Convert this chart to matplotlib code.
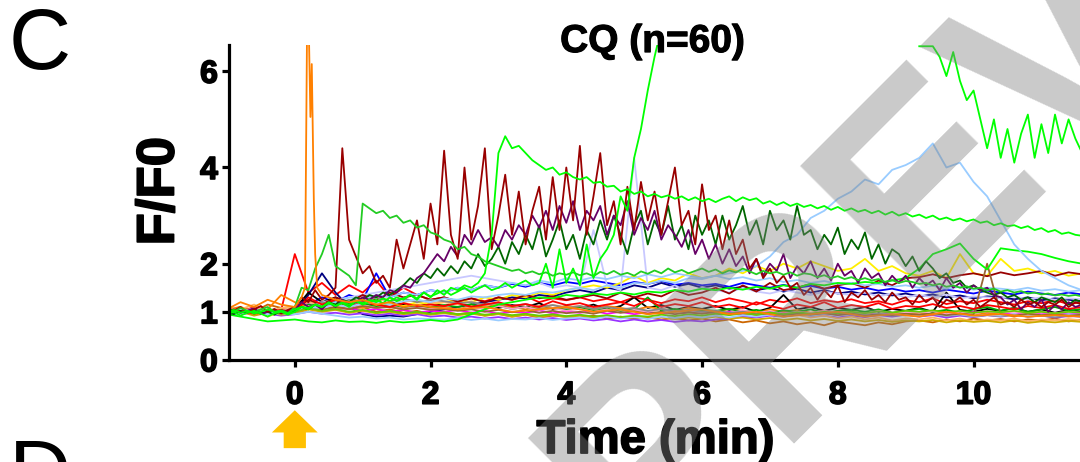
import numpy as np
import matplotlib
matplotlib.use('Agg')
import matplotlib.pyplot as plt
import matplotlib.transforms as mtransforms
import matplotlib.patheffects as pe

plt.rcParams['font.family'] = ['Liberation Sans', 'DejaVu Sans']

# ---- data (F/F0 traces) ----
# fine traces: sampled every 0.1 min starting at -1.0 min
dark_red = [1.08, 1.02, 1.1, 0.98, 1.05, 1.12, 1.0, 1.06, 0.97, 1.04,
            1.1, 1.3, 1.2, 1.45, 1.25, 1.35,
            1.5, 4.4, 2.5, 2.15, 1.8, 1.95, 1.6, 1.75, 1.5,
            2.5, 1.9, 2.4, 2.9, 2.1, 3.25, 2.4, 4.35, 2.6, 2.1,
            4.0, 2.5, 3.2, 4.4, 2.3, 3.0, 3.85, 2.6, 3.5, 2.4,
            3.1, 3.6, 2.5, 3.8, 2.7, 4.0, 2.9, 4.45, 2.6, 3.4,
            4.3, 2.8, 3.3, 2.4, 3.6, 2.7, 3.7, 2.9, 3.5, 2.6,
            3.3, 4.0, 2.8, 3.1, 2.4, 3.65, 2.7, 3.0, 2.3, 2.9,
            2.2, 2.5, 1.9, 2.1, 1.7, 1.9, 1.6, 1.75, 1.5,
            1.6, 1.35, 1.5, 1.25, 1.45, 1.3, 1.55, 1.2, 1.4, 1.3,
            1.45, 1.25, 1.35, 1.2, 1.4, 1.25, 1.3, 1.15, 1.35, 1.2,
            1.3, 1.1, 1.25, 1.2, 1.3, 1.15, 1.25, 1.1, 1.2, 1.3,
            1.15, 1.2, 1.1, 1.25, 1.15, 1.2, 1.1, 1.2, 1.15, 1.25,
            1.1, 1.2, 1.15]
purple = [1.0, 1.05, 0.98, 1.02, 1.08, 0.95, 1.0, 1.04, 0.97, 1.02,
          1.05, 1.2, 1.1, 1.15, 1.05, 1.2, 1.1, 1.25, 1.15, 1.2, 1.3,
          1.25, 1.35, 1.3, 1.45, 1.4, 1.55, 1.5, 1.7, 1.8,
          2.0, 2.2, 2.05, 2.35, 2.15, 2.6, 2.4, 2.7, 2.45, 2.55, 2.35, 2.7, 2.5, 2.8,
          2.6, 3.0, 2.75, 3.1, 2.7, 3.2, 2.85, 3.3, 2.7, 3.1, 2.9, 3.2,
          2.6, 3.0, 2.8, 3.3, 2.6, 2.95, 2.7, 3.1, 2.5, 2.8, 2.6,
          2.35, 2.7, 2.2, 2.5, 2.1, 2.4, 2.0, 2.3, 1.95,
          2.15, 1.8, 2.1, 1.75, 2.0, 1.85, 2.2, 1.7, 1.95, 1.8,
          2.05, 1.7, 1.9, 1.65, 2.0, 1.75, 1.85, 1.6, 1.9, 1.7, 1.8, 1.55, 1.75,
          1.6, 1.75, 1.5, 1.7, 1.55, 1.65, 1.45, 1.7, 1.5, 1.6, 1.4, 1.55, 1.45, 1.5, 1.35,
          1.3, 1.15, 1.25, 1.05, 1.2, 1.1, 1.25, 1.0, 1.15, 1.05, 1.2, 1.1, 1.15]
dark_green = [1.0, 0.95, 1.02, 0.98, 1.05, 0.97, 1.0, 0.94, 1.03, 0.99,
              1.02, 1.1, 1.05, 1.15, 1.1, 1.2, 1.15, 1.25, 1.2, 1.3, 1.25, 1.35, 1.3, 1.4, 1.35, 1.45,
              1.55, 1.7, 1.6, 1.8, 1.7, 1.9, 1.75, 1.95, 1.8, 2.05, 1.9, 2.2, 1.95,
              2.1, 2.35, 2.0, 2.45, 2.2, 2.6, 2.3, 2.8, 2.15, 2.5, 2.9, 2.3, 2.6, 2.1, 2.7, 2.4, 2.9,
              2.5, 3.0, 2.6, 2.2, 2.8, 3.1, 2.4, 2.9, 2.6, 3.2, 2.5, 2.8, 2.3, 3.0, 2.6, 2.9, 2.4,
              3.0, 2.5, 2.8, 3.2, 2.6, 2.9, 2.4, 3.1, 2.7, 2.9, 2.5, 3.2, 2.6,
              2.7, 2.3, 2.6, 2.4, 2.75, 2.2, 2.5, 2.3, 2.65, 2.1, 2.4, 2.0, 2.3,
              2.2, 1.95, 2.15, 1.85, 2.05, 1.9, 1.7, 1.8, 1.6, 1.65, 1.5, 1.55, 1.45, 1.4,
              1.35, 1.4, 1.3, 1.35, 1.25, 1.3, 1.2, 1.3, 1.25, 1.2, 1.3, 1.15, 1.25, 1.2]
mid_green = [1.05, 1.0, 1.08, 1.02, 0.98, 1.05, 1.1, 1.0, 1.03, 0.97,
             1.1, 1.5, 1.45, 1.9, 2.2, 2.6, 1.95, 1.85, 1.75, 1.55, 3.25,
             3.15, 3.05, 3.1, 2.95, 3.0, 2.85, 2.9, 2.75, 2.8, 2.65,
             2.6, 2.5, 2.45, 2.3, 2.35, 2.2, 2.15, 2.05, 2.0, 1.95,
             1.9, 1.85, 1.88, 1.8, 1.84, 1.78, 1.82, 1.75, 1.8, 1.77,
             1.82, 1.76, 1.8, 1.74, 1.83, 1.78, 1.85, 1.77, 1.81, 1.75,
             1.84, 1.79, 1.86, 1.8, 1.9, 1.82, 1.87, 1.8, 1.85, 1.9,
             1.83, 1.88, 1.8, 1.86, 1.82, 1.9, 1.84, 1.78, 1.85, 1.8,
             1.83, 1.77, 1.82, 1.75, 1.8,
             1.78, 1.72, 1.76, 1.7, 1.74, 1.68, 1.72, 1.66, 1.7, 1.65, 1.68, 1.62, 1.66, 1.6, 1.64,
             1.62, 1.58, 1.6, 1.55, 1.58, 1.52, 1.55, 1.5, 1.53, 1.48, 1.5, 1.45, 1.48,
             1.42, 1.45, 1.4, 1.43, 1.38, 1.4, 1.36, 1.38, 1.34, 1.36, 1.33, 1.35, 1.32]
green_peak = [0.95, 1.0, 0.92, 0.98, 1.02, 0.96, 0.9, 0.97, 1.0, 0.94,
              1.0, 1.1, 1.05, 1.15, 1.1, 1.2, 1.12, 1.18, 1.1, 1.22,
              1.15, 1.2, 1.25, 1.18, 1.3, 1.22, 1.28, 1.35, 1.25, 1.4,
              1.3, 1.45, 1.35, 1.5, 1.45, 1.55, 1.5, 1.6, 1.8,
              2.6, 4.3, 4.65, 4.4, 4.45, 4.3, 4.15, 4.05, 3.95, 4.0,
              3.85, 3.9, 3.8, 3.75, 3.8, 3.68, 3.7, 3.6, 3.62, 3.5,
              3.55, 3.45, 3.5, 3.4, 3.45, 3.38, 3.42, 3.35, 3.4, 3.32,
              3.38, 3.3, 3.35, 3.28,
              3.35, 3.4, 3.3, 3.38, 3.32, 3.36, 3.25, 3.3, 3.22, 3.28, 3.2, 3.25, 3.18, 3.22, 3.15, 3.2, 3.12, 3.18,
              3.1, 3.15, 3.08, 3.12, 3.05, 3.1, 3.02, 3.08, 3.0, 3.05, 2.98, 3.02, 2.95, 3.0, 2.92, 2.96, 2.9, 2.94, 2.88, 2.92,
              2.85, 2.88, 2.8, 2.84, 2.78, 2.8, 2.74, 2.78, 2.7, 2.74, 2.66, 2.7, 2.62, 2.65, 2.6, 2.58]
green_off = ([1.0, 1.04, 0.98, 1.02, 0.96, 1.0, 1.05, 0.99, 1.02, 0.97,
              1.05, 1.1, 1.08, 1.15, 1.1, 1.18, 1.12, 1.2, 1.15, 1.22,
              1.18, 1.25, 1.2, 1.28, 1.22, 1.3, 1.25, 1.35, 1.28, 1.4,
              1.32, 1.38, 1.45, 1.35, 1.42, 1.5, 1.4, 1.48, 1.55, 1.45,
              1.5, 1.6, 1.5, 1.58, 1.65, 1.55, 1.6,
              2.0, 1.5, 2.3, 1.6, 1.9, 1.55, 2.4, 1.7, 2.1, 2.3,
              2.6, 3.4, 3.1, 4.2, 4.8, 5.6, 6.3, 6.9]
             + [np.nan] * 37   # above the top of the axis
             + [6.52, 6.52, 6.52, 6.3, 5.9, 6.4, 5.8, 5.4, 5.6, 5.0, 4.4, 5.0, 4.2,
                4.8, 4.1, 4.7, 5.1, 4.2, 4.9, 4.3, 5.1, 4.5, 5.0, 4.6, 4.3])

# orange transient trace, own time points (min)
orange_t = [-1.0, -0.8, -0.6, -0.4, -0.2, 0.0, 0.1, 0.15, 0.18, 0.21, 0.23, 0.25, 0.28,
            0.3, 0.33, 0.4, 0.5, 0.6, 0.8, 1.0, 1.2, 1.4, 1.6, 1.8, 2.0, 2.4, 2.8, 3.2,
            3.6, 4.0, 4.4, 4.8, 5.2, 5.6, 6.0, 6.4, 6.8, 7.2, 7.6, 8.0, 8.4, 8.8, 9.2,
            9.6, 10.0, 10.4, 10.8, 11.2, 11.6]
orange_y = [1.05, 1.2, 1.1, 1.25, 1.15, 1.1, 1.3, 1.5, 6.8, 6.6, 5.05, 6.15, 3.35,
            2.2, 1.5, 1.35, 1.3, 1.25, 1.2, 1.25, 1.15, 1.2, 1.1, 1.15, 1.1, 1.05, 1.1, 1.0,
            1.05, 1.1, 1.0, 1.05, 0.95, 1.0, 1.05, 0.95, 1.0, 0.9, 0.95, 1.0, 0.9, 0.95, 0.9,
            1.0, 0.92, 0.95, 0.9, 0.93, 0.9]

# coarse traces: sampled every 0.2 min starting at -1.0 min
light_blue = [1.02, 0.98, 1.05, 0.97, 1.0,
              1.05, 1.1, 1.08, 1.15, 1.1, 1.18, 1.2, 1.15, 1.22, 1.25, 1.2,
              1.28, 1.25, 1.32, 1.3, 1.35, 1.38, 1.35, 1.42, 1.4, 1.45,
              1.5, 1.45, 1.55, 1.5, 1.6, 1.58, 1.65, 1.6, 1.7, 1.68,
              1.75, 1.8, 1.85, 1.95, 2.15, 2.45, 2.6, 2.95, 3.1, 3.35,
              3.5, 3.75, 3.65, 3.95, 4.05,
              4.2, 4.5, 4.0, 4.1, 3.7, 3.4,
              2.9, 2.4, 2.1, 1.85, 1.7, 1.55, 1.45]
lime_low = [0.95, 0.9, 0.85, 0.8, 0.82,
            0.84, 0.8, 0.78, 0.82, 0.79, 0.8, 0.77, 0.81, 0.78, 0.8, 0.83,
            0.8, 0.84, 0.95, 1.05, 1.15, 1.2, 1.25, 1.3, 1.28, 1.35,
            1.32, 1.38, 1.35, 1.4, 1.36, 1.42, 1.4, 1.45, 1.42, 1.48,
            1.45, 1.5, 1.46, 1.52, 1.48, 1.55, 1.5, 1.58, 1.55, 1.6,
            1.58, 1.62, 1.6, 1.65, 1.7,
            1.9, 2.2, 2.3, 2.42, 2.1, 1.88,
            2.32, 2.28, 2.25, 2.2, 2.12, 2.05, 2.0]
cluster = [
    ('#FF0000', [1.05, 1.0, 1.1, 0.98, 1.04, 2.2, 1.4, 1.6, 1.35, 1.55, 1.4, 1.65, 1.3, 1.5, 1.35, 1.25,
                 1.3, 1.2, 1.28, 1.22, 1.3, 1.25, 1.32, 1.2, 1.28, 1.24, 1.3, 1.22, 1.27, 1.2, 1.3,
                 1.25, 1.18, 1.26, 1.22, 1.3, 1.2, 1.28, 1.22, 1.15, 1.25, 1.2, 1.28, 1.18, 1.24, 1.2,
                 1.26, 1.18, 1.22, 1.15, 1.24, 1.2, 1.28, 1.16, 1.22, 1.18, 1.25, 1.2, 1.15, 1.22,
                 1.18, 1.24, 1.16, 1.2]),
    ('#0000FF', [1.0, 1.05, 0.98, 1.03, 1.0, 1.02, 1.15, 1.3, 1.2, 1.35, 1.25, 1.8, 1.3, 1.4, 1.35, 1.45,
                 1.4, 1.5, 1.45, 1.55, 1.5, 1.58, 1.52, 1.6, 1.55, 1.62, 1.58, 1.65, 1.6, 1.55, 1.62,
                 1.58, 1.64, 1.56, 1.6, 1.55, 1.58, 1.52, 1.6, 1.55, 1.5, 1.56, 1.5, 1.54, 1.48, 1.52,
                 1.46, 1.5, 1.44, 1.48, 1.42, 1.45, 1.4, 1.46, 1.42, 1.38, 1.44, 1.4, 1.36, 1.42,
                 1.38, 1.35, 1.4, 1.36]),
    ('#000080', [1.0, 0.96, 1.02, 0.95, 0.99, 1.0, 1.35, 1.8, 1.4, 1.1, 0.95, 0.9, 0.92, 0.9, 0.95, 1.0,
                 1.05, 1.1, 1.15, 1.2, 1.25, 1.3, 1.28, 1.35, 1.32, 1.4, 1.45, 1.4, 1.5, 1.45, 1.55,
                 1.5, 1.6, 1.52, 1.58, 1.5, 1.55, 1.48, 1.52, 1.45, 1.5, 1.42, 1.48, 1.4, 1.45, 1.38,
                 1.42, 1.36, 1.4, 1.34, 1.38, 1.32, 1.36, 1.3, 1.34, 1.28, 1.32, 1.3, 1.26, 1.3,
                 1.24, 1.28, 1.25, 1.22]),
    ('#000000', [1.0, 1.04, 0.97, 1.02, 1.0, 1.05, 1.4, 1.2, 1.3, 1.15, 1.25, 1.1, 1.2, 1.15, 1.1, 1.18,
                 1.12, 1.2, 1.1, 1.16, 1.08, 1.14, 1.1, 1.18, 1.06, 1.12, 1.08, 1.15, 1.05, 1.12, 1.3,
                 1.08, 1.14, 1.04, 1.1, 1.06, 1.12, 1.04, 1.1, 1.0, 1.08, 1.35, 1.05, 1.1, 1.02, 1.08,
                 1.04, 1.1, 1.0, 1.06, 1.02, 1.08, 1.0, 1.4, 1.04, 1.0, 1.06, 1.02, 1.08, 1.0,
                 1.05, 0.98, 1.04, 1.0]),
    ('#CC6600', [1.05, 1.1, 1.0, 1.15, 1.08, 1.1, 1.2, 1.15, 1.1, 1.05, 1.1, 1.0, 1.05, 0.98, 1.02, 0.95,
                 1.0, 0.95, 0.98, 0.92, 0.96, 0.9, 0.94, 0.88, 0.92, 0.9, 0.88, 0.92, 0.86, 0.9, 0.85,
                 0.88, 0.84, 0.87, 0.82, 0.86, 0.8, 0.84, 0.78, 0.82, 0.76, 0.8, 0.74, 0.78, 0.72, 0.8,
                 0.76, 0.72, 0.78, 0.74, 0.8, 0.82, 0.78, 0.84, 0.8, 0.86, 0.82, 0.85, 0.8, 0.84,
                 0.82, 0.86, 0.8, 0.84]),
    ('#9933FF', [0.98, 0.94, 1.0, 0.96, 0.92, 0.95, 1.0, 0.96, 0.98, 0.94, 0.97, 0.93, 0.96, 0.92, 0.95, 0.9,
                 0.92, 0.88, 0.9, 0.86, 0.89, 0.85, 0.88, 0.84, 0.87, 0.83, 0.86, 0.82, 0.85, 0.8, 0.84,
                 0.8, 0.83, 0.79, 0.82, 0.8, 0.84, 0.86, 0.9, 0.88, 0.92, 0.9, 0.94, 0.9, 0.92, 0.88,
                 0.92, 0.89, 0.93, 0.9, 0.94, 0.9, 0.93, 0.88, 0.92, 0.89, 0.93, 0.9, 0.94, 0.9,
                 0.92, 0.88, 0.91, 0.9]),
    ('#FF00FF', [1.02, 0.98, 1.05, 1.0, 0.97, 1.0, 1.2, 1.1, 1.05, 1.08, 1.02, 1.06, 1.0, 1.04, 0.98, 1.02,
                 1.0, 1.04, 0.98, 1.02, 0.96, 1.0, 0.98, 1.03, 0.97, 1.0, 0.98, 1.02, 0.96, 1.0, 0.95,
                 0.99, 0.96, 1.0, 0.94, 0.98, 0.96, 1.0, 0.94, 0.98, 0.95, 1.0, 0.93, 0.97, 0.95, 0.99,
                 0.96, 1.0, 0.94, 0.98, 0.95, 0.99, 0.94, 0.98, 0.95, 1.0, 0.96, 0.98, 0.94, 0.99,
                 0.95, 0.98, 0.96, 0.97]),
    ('#FFEE00', [1.0, 0.95, 1.05, 0.9, 1.0, 1.0, 1.1, 1.05, 1.12, 1.08, 1.15, 1.1, 1.18, 1.12, 1.2, 1.15,
                 1.2, 1.25, 1.2, 1.3, 1.25, 1.35, 1.3, 1.4, 1.35, 1.45, 1.5, 1.55, 1.5, 1.6, 1.75,
                 1.6, 1.7, 1.65, 1.8, 1.7, 1.75, 1.9, 1.8, 1.95, 1.85, 2.0, 1.9, 2.05, 1.95, 1.85,
                 1.9, 2.1, 1.85, 1.95, 1.8, 1.75, 1.85, 1.7, 2.2, 1.8, 1.75, 2.1, 1.85, 1.9,
                 1.8, 1.85, 1.75, 1.8]),
    ('#C8C8FF', [1.0, 1.03, 0.97, 1.0, 1.02, 1.05, 1.15, 1.2, 1.25, 1.3, 1.35, 1.4, 1.45, 1.5, 1.55, 1.6,
                 1.65, 1.7, 1.75, 1.7, 1.65, 1.6, 1.55, 1.6, 1.5, 1.55, 1.5, 2.7, 1.55, 1.45, 4.2,
                 1.5, 1.45, 1.55, 1.4, 1.5, 1.45, 1.4, 1.5, 1.42, 1.38, 1.45, 1.4, 1.35, 1.42, 1.38,
                 1.35, 1.4, 1.32, 1.38, 1.3, 1.35, 1.3, 1.36, 1.28, 1.32, 1.3, 1.28, 1.32, 1.26,
                 1.3, 1.25, 1.28, 1.26]),
    ('#FFB366', [1.1, 1.05, 1.15, 1.0, 1.08, 1.1, 1.2, 1.15, 1.25, 1.2, 1.3, 1.22, 1.28, 1.2, 1.25, 1.18,
                 1.2, 1.15, 1.22, 1.12, 1.18, 1.1, 1.16, 1.08, 1.14, 1.1, 1.12, 1.06, 1.1, 1.02, 1.08,
                 1.0, 1.05, 0.98, 1.02, 0.96, 1.0, 0.94, 0.98, 0.92, 0.96, 0.9, 0.94, 0.88, 0.92, 0.86,
                 0.9, 0.84, 0.88, 0.82, 0.86, 0.84, 0.88, 0.82, 0.86, 0.8, 0.84, 0.82, 0.86, 0.8,
                 0.84, 0.82, 0.85, 0.82]),
    ('#FF8000', [1.0, 1.1, 0.95, 1.05, 1.35, 1.2, 1.1, 1.15, 1.05, 1.12, 1.08, 1.15, 1.1, 1.05, 1.12, 1.08,
                 1.1, 1.05, 1.12, 1.08, 1.15, 1.1, 1.05, 1.12, 1.08, 1.05, 1.1, 1.06, 1.12, 1.08, 1.04,
                 1.1, 1.06, 1.02, 1.08, 1.04, 1.0, 1.06, 1.02, 0.98, 1.05, 1.0, 1.04, 0.98, 1.02, 0.96,
                 1.0, 0.95, 1.02, 0.98, 0.94, 0.98, 0.94, 1.0, 0.96, 0.92, 0.98, 0.95, 0.9, 0.96,
                 0.92, 0.95, 0.9, 0.93]),
    ('#00AA00', [1.0, 0.96, 1.02, 0.98, 0.95, 1.0, 1.15, 1.1, 1.2, 1.12, 1.18, 1.1, 1.15, 1.08, 1.12, 1.1,
                 1.14, 1.1, 1.16, 1.08, 1.12, 1.06, 1.1, 1.05, 1.08, 1.04, 1.08, 1.02, 1.06, 1.0, 1.05,
                 1.3, 1.02, 1.06, 1.0, 1.04, 1.02, 1.06, 1.0, 1.04, 0.98, 1.03, 1.0, 1.05, 0.98, 1.02,
                 1.04, 1.0, 1.05, 0.98, 1.02, 1.06, 1.0, 1.04, 0.98, 1.05, 1.1, 1.02, 1.08, 1.0,
                 1.05, 1.1, 1.02, 1.06]),
    ('#990000', [1.02, 0.98, 1.05, 1.0, 0.97, 1.05, 1.25, 1.15, 1.3, 1.2, 1.35, 1.25, 1.4, 1.3, 1.35, 1.25,
                 1.3, 1.22, 1.28, 1.2, 1.3, 1.25, 1.35, 1.28, 1.32, 1.25, 1.3, 1.35, 1.28, 1.4, 1.3,
                 1.38, 1.32, 1.45, 1.35, 1.4, 1.5, 1.38, 1.55, 1.42, 1.6, 1.45, 1.5, 1.58, 1.48, 1.55,
                 1.6, 1.5, 1.65, 1.55, 1.7, 1.72, 1.78, 1.7, 1.76, 1.8, 1.74, 1.82, 1.76, 1.8,
                 1.85, 1.75, 1.82, 1.78]),
    ('#FF99CC', [1.05, 1.0, 1.08, 1.02, 1.0, 1.04, 1.12, 1.08, 1.15, 1.1, 1.14, 1.08, 1.12, 1.06, 1.1, 1.05,
                 1.08, 1.04, 1.1, 1.05, 1.12, 1.06, 1.1, 1.04, 1.08, 1.02, 1.06, 1.0, 1.05, 0.98, 1.04,
                 1.0, 1.06, 1.0, 1.03, 0.98, 1.02, 0.97, 1.03, 0.98, 1.01, 0.96, 1.0, 0.97, 1.02, 0.98,
                 1.0, 0.96, 1.02, 0.97, 1.0, 0.98, 1.02, 0.96, 1.0, 0.97, 1.01, 0.98, 1.0, 0.96,
                 0.99, 0.97, 1.0, 0.98]),
    ('#CCAA00', [0.95, 1.0, 0.92, 0.98, 0.94, 0.96, 1.05, 1.0, 1.04, 0.98, 1.02, 0.97, 1.0, 0.95, 0.98, 0.94,
                 0.97, 0.93, 0.96, 0.92, 0.95, 0.9, 0.94, 0.9, 0.93, 0.89, 0.92, 0.88, 0.91, 0.87, 0.9,
                 0.86, 0.89, 0.85, 0.88, 0.86, 0.9, 0.86, 0.88, 0.84, 0.87, 0.83, 0.86, 0.82, 0.85, 0.81,
                 0.84, 0.8, 0.83, 0.79, 0.82, 0.8, 0.83, 0.78, 0.82, 0.79, 0.81, 0.78, 0.82, 0.77,
                 0.8, 0.78, 0.81, 0.79]),
    ('#888888', [1.0, 1.02, 0.98, 1.01, 0.99, 1.0, 1.1, 1.2, 1.15, 1.25, 1.2, 1.3, 1.22, 1.28, 1.2, 1.25,
                 1.22, 1.18, 1.2, 1.15, 1.18, 1.12, 1.16, 1.1, 1.14, 1.08, 1.12, 1.06, 1.1, 1.05, 1.08,
                 1.02, 1.06, 1.0, 1.04, 1.0, 1.02, 0.98, 1.0, 0.96, 0.99, 0.95, 0.98, 0.94, 0.97, 0.95,
                 0.96, 0.93, 0.95, 0.92, 0.94, 0.92, 0.95, 0.91, 0.94, 0.9, 0.93, 0.91, 0.94, 0.9,
                 0.92, 0.89, 0.92, 0.9]),
    ('#99CCFF', [0.98, 0.95, 1.0, 0.94, 0.97, 0.95, 1.0, 0.96, 0.92, 0.88, 0.9, 0.86, 0.88, 0.84, 0.86, 0.85,
                 0.84, 0.87, 0.83, 0.86, 0.82, 0.85, 0.84, 0.87, 0.83, 0.86, 0.88, 0.85, 0.9, 0.86, 0.89,
                 0.85, 0.9, 0.87, 0.91, 0.88, 0.92, 0.88, 0.93, 0.9, 0.94, 0.91, 0.95, 0.92, 0.96, 0.93,
                 0.95, 0.92, 0.96, 0.93, 0.95, 0.93, 0.96, 0.92, 0.95, 0.91, 0.94, 0.92, 0.95, 0.91,
                 0.94, 0.92, 0.95, 0.93]),
    ('#99CCFF', [1.0, 1.05, 1.0, 1.03, 0.98, 1.02, 1.1, 1.15, 1.2, 1.3, 1.25, 1.35, 1.3, 1.4, 1.35, 1.45,
                 1.4, 1.5, 1.45, 1.55, 1.5, 1.6, 1.55, 1.65, 1.6, 1.7, 1.65, 1.72, 1.68, 1.75, 1.7,
                 1.78, 1.72, 1.8, 1.75, 1.7, 1.75, 1.68, 1.72, 1.65, 1.7, 1.62, 1.66, 1.6, 1.64, 1.58,
                 1.6, 1.55, 1.58, 1.52, 1.55, 1.5, 1.54, 1.48, 1.52, 1.46, 1.5, 1.48, 1.45, 1.5,
                 1.44, 1.47, 1.42, 1.45]),
    ('#996633', [1.02, 0.98, 1.04, 1.0, 0.96, 1.0, 1.08, 1.04, 1.1, 1.06, 1.12, 1.08, 1.1, 1.05, 1.08, 1.04,
                 1.06, 1.02, 1.05, 1.0, 1.04, 0.99, 1.03, 0.98, 1.02, 0.97, 1.0, 0.96, 1.02, 0.98, 1.01,
                 0.96, 1.0, 0.95, 0.99, 0.96, 1.0, 0.95, 0.98, 0.94, 0.97, 0.93, 0.96, 0.94, 0.97, 0.93,
                 0.96, 0.92, 0.95, 0.93, 0.96, 0.94, 0.97, 0.93, 0.96, 0.94, 2.0, 0.95, 0.92, 0.96,
                 0.93, 0.95, 0.92, 0.94]),
    ('#FF0000', [0.98, 1.02, 0.96, 1.0, 1.04, 1.0, 1.3, 1.15, 1.25, 1.1, 1.2, 1.15, 1.1, 1.18, 1.12, 1.15,
                 1.12, 1.18, 1.1, 1.15, 1.2, 1.12, 1.16, 1.1, 1.22, 1.14, 1.18, 1.1, 1.15, 1.2, 1.12,
                 1.25, 1.1, 1.16, 1.12, 1.2, 1.1, 1.15, 1.08, 1.2, 1.12, 1.06, 1.15, 1.1, 1.2, 1.08,
                 1.14, 1.1, 1.18, 1.06, 1.12, 1.1, 1.16, 1.08, 1.12, 1.06, 1.14, 1.1, 1.05, 1.12,
                 1.08, 1.14, 1.06, 1.1]),
    ('#66CC00', [1.03, 0.99, 1.05, 1.0, 1.02, 1.0, 1.08, 1.02, 1.06, 1.0, 1.04, 0.98, 1.02, 0.97, 1.0, 0.96,
                 0.99, 0.95, 0.98, 0.94, 0.97, 0.93, 0.96, 0.92, 0.95, 0.91, 0.94, 0.9, 0.93, 0.89, 0.92,
                 0.9, 0.94, 0.91, 0.95, 0.92, 0.96, 0.93, 0.97, 0.94, 0.98, 0.95, 0.99, 0.96, 1.0, 0.97,
                 1.0, 0.97, 1.01, 0.98, 1.02, 1.0, 1.03, 0.99, 1.02, 0.98, 1.01, 0.99, 1.02, 0.98,
                 1.0, 0.97, 1.0, 0.98]),
]


def times(vals, step):
    return -1.0 + step * np.arange(len(vals))


fig = plt.figure(figsize=(10.8, 4.62), dpi=100)
ax = fig.add_axes([0.212, 0.221, 0.79, 0.682])
lw = 1.3
heavy = [pe.withStroke(linewidth=1.2, foreground='black')]

for col, vals in cluster:
    ax.plot(times(vals, 0.2), vals, color=col, lw=lw)
ax.plot(times(lime_low, 0.2), lime_low, color='#00FF00', lw=lw)
ax.plot(times(light_blue, 0.2), light_blue, color='#99CCFF', lw=lw)
ax.plot(times(dark_green, 0.1), dark_green, color='#006600', lw=lw)
ax.plot(times(purple, 0.1), purple, color='#660066', lw=lw)
ax.plot(times(dark_red, 0.1), dark_red, color='#990000', lw=lw)
ax.plot(times(mid_green, 0.1), mid_green, color='#22CC22', lw=lw)
ax.plot(times(green_peak, 0.1), green_peak, color='#00FF00', lw=lw)
ax.plot(times(green_off, 0.1), green_off, color='#00FF00', lw=lw)
ax.plot(orange_t, orange_y, color='#FF8000', lw=lw)

ax.set_xlim(-0.97, 11.6)
ax.set_ylim(0, 6.55)
ax.set_xticks([0, 2, 4, 6, 8, 10])
ax.set_yticks([0, 1, 2, 4, 6])
for s in ['top', 'right']:
    ax.spines[s].set_visible(False)
for s in ['left', 'bottom']:
    ax.spines[s].set_linewidth(2.3)
ax.tick_params(width=2.3, length=5, labelsize=23, direction='out')
ax.tick_params(axis='x', pad=10)
ax.tick_params(axis='y', pad=3)
for lab in ax.get_xticklabels() + ax.get_yticklabels():
    lab.set_fontweight('bold')
    lab.set_path_effects(heavy)
ax.set_xlabel('Time (min)', fontsize=34, fontweight='bold', labelpad=6,
              path_effects=heavy)
ax.set_ylabel('F/F0', fontsize=38, fontweight='bold', path_effects=heavy)
ax.yaxis.set_label_coords(-0.052, 0.535)
fig.text(0.604, 0.909, 'CQ (n=60)', fontsize=28, fontweight='bold',
         ha='center', va='center', path_effects=[pe.withStroke(linewidth=0.8, foreground='black')])

# stimulus arrow under t = 0
trans = mtransforms.blended_transform_factory(ax.transData, fig.transFigure)
ax.annotate('', xy=(0, 0.112), xytext=(0, 0.03), xycoords=trans, textcoords=trans,
            arrowprops=dict(facecolor='#FFC000', edgecolor='none', width=16,
                            headwidth=33, headlength=16, shrink=0),
            annotation_clip=False)

fig.text(0.008, 0.985, 'C', fontsize=62, va='top')
fig.text(0.008, 0.052, 'D', fontsize=62, va='top')

# diagonal watermark over the panel
fig.text(1.017, 0.738, 'PREVIEW', fontsize=200, fontweight='bold', color='#808080',
         alpha=0.42, rotation=45, ha='center', va='baseline', rotation_mode='anchor')

fig.savefig('out.png', dpi=100)
